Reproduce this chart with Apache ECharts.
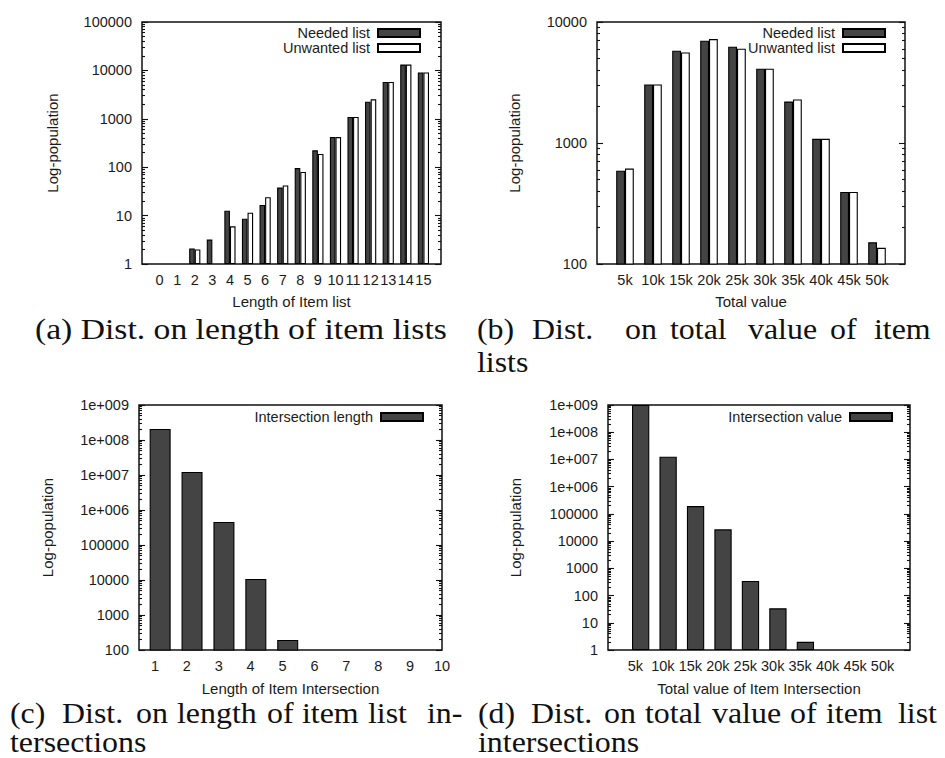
<!DOCTYPE html>
<html>
<head>
<meta charset="utf-8">
<script src="https://cdn.jsdelivr.net/npm/echarts@6/dist/echarts.min.js"></script>
<style>
  html, body { margin: 0; padding: 0; background: #fff; }
  #chart { width: 945px; height: 758px; }
</style>
</head>
<body>
<div id="chart"></div>
<script>
// (a) population by length of item lists
const lengthCats = [0, 1, 2, 3, 4, 5, 6, 7, 8, 9, 10, 11, 12, 13, 14, 15];
const lengthNeeded   = [null, null, 2.1, 3.2, 12.6, 8.6, 16.6, 38, 96, 223, 420, 1090, 2250, 5760, 13200, 9100];
const lengthUnwanted = [null, null, 2,   null, 6,   11.5, 24,  42, 80, 188, 420, 1090, 2520, 5760, 13200, 9100];

// (b) population by total value of item lists
const valueCats = ['5k', '10k', '15k', '20k', '25k', '30k', '35k', '40k', '45k', '50k'];
const valueNeeded   = [590, 3050, 5790, 7010, 6250, 4110, 2200, 1083, 394, 151];
const valueUnwanted = [615, 3050, 5610, 7230, 6020, 4110, 2290, 1083, 394, 136];

// (c) population by length of item list intersections
const interLenCats = [1, 2, 3, 4, 5, 6, 7, 8, 9, 10];
const interLen = [2.06e8, 1.22e7, 4.54e5, 10700, 193, null, null, null, null, null];

// (d) population by total value of item list intersections
const interValCats = ['5k', '10k', '15k', '20k', '25k', '30k', '35k', '40k', '45k', '50k'];
const interVal = [1e9, 1.26e7, 1.94e5, 2.7e4, 342, 34, 2, null, null, null];

// y tick labels (log scale, one per decade)
const yTicksA = [1, 10, 100, 1000, 10000, 100000];
const yTicksB = [100, 1000, 10000];
const yTicksC = [100, 1000, 10000, 100000, 1e6, 1e7, 1e8, 1e9];
const yTicksD = [1, 10, 100, 1000, 10000, 100000, 1e6, 1e7, 1e8, 1e9];

const INK = '#1b1b1b';
const DARK = '#444444';
const SANS = "'Liberation Sans', Arial, sans-serif";
const SERIF = "'Liberation Serif', 'Times New Roman', serif";

function kNum(label) { return parseFloat(label); }
function logLabel(v) {
  const e = Math.round(Math.log10(v));
  return e >= 6 ? '1e+' + String(e).padStart(3, '0') : String(Math.round(v));
}
function minorTicks(lo, hi) {
  const out = [];
  for (let d = lo; d < hi; d *= 10) for (let m = 2; m <= 9; m++) out.push(m * d);
  return out;
}

const grids = [
  { left: 142, top: 22,  width: 299, height: 242 },
  { left: 597, top: 22,  width: 308, height: 242 },
  { left: 139, top: 405, width: 303, height: 245 },
  { left: 608, top: 405, width: 302, height: 245 }
].map(g => Object.assign(g, {
  show: true, borderColor: '#111', borderWidth: 1.5,
  backgroundColor: 'transparent', containLabel: false, outerBoundsMode: 'none'
}));

const panels = [
  { xMin: -1, xMax: 16, xTicks: lengthCats, xFmt: v => String(v), xName: 'Length of Item list',
    yTicks: yTicksA, yNameGap: 82, xNameGap: 30 },
  { xMin: 0, xMax: 55, xTicks: valueCats.map(kNum), xFmt: v => v + 'k', xName: 'Total value',
    yTicks: yTicksB, yNameGap: 75, xNameGap: 30 },
  { xMin: 0.5, xMax: 10, xTicks: interLenCats, xFmt: v => String(v), xName: 'Length of Item Intersection',
    yTicks: yTicksC, yNameGap: 84, xNameGap: 31 },
  { xMin: 0, xMax: 55, xTicks: interValCats.map(kNum), xFmt: v => v + 'k', xName: 'Total value of Item Intersection',
    yTicks: yTicksD, yNameGap: 85, xNameGap: 31 }
];

const xAxis = panels.map((p, g) => ({
  type: 'value', gridIndex: g, position: 'bottom', min: p.xMin, max: p.xMax,
  axisLine: { show: false, onZero: false },
  axisTick: { show: false },
  splitLine: { show: false },
  axisLabel: { customValues: p.xTicks, formatter: p.xFmt, margin: 8, fontSize: 14.5,
               fontFamily: SANS, color: INK, hideOverlap: false },
  name: p.xName, nameLocation: 'middle', nameGap: p.xNameGap,
  nameTextStyle: { fontSize: 15, fontFamily: SANS, color: INK }
}));

const yAxis = [];
panels.forEach((p, g) => {
  const lo = p.yTicks[0], hi = p.yTicks[p.yTicks.length - 1];
  const base = {
    type: 'log', logBase: 10, gridIndex: g, min: lo, max: hi,
    axisLine: { show: false, onZero: false }, splitLine: { show: false }
  };
  const tickStyle = { color: '#111', width: 1.1 };
  // left major ticks with labels and title
  yAxis.push(Object.assign({}, base, {
    position: 'left',
    axisTick: { show: true, inside: true, length: 6, customValues: p.yTicks, lineStyle: tickStyle },
    axisLabel: { customValues: p.yTicks, formatter: logLabel, margin: 10, fontSize: 14.5,
                 fontFamily: SANS, color: INK },
    name: 'Log-population', nameLocation: 'middle', nameRotate: 90, nameGap: p.yNameGap,
    nameTextStyle: { fontSize: 15, fontFamily: SANS, color: INK }
  }));
  // left minor ticks
  yAxis.push(Object.assign({}, base, {
    position: 'left',
    axisTick: { show: true, inside: true, length: 3, customValues: minorTicks(lo, hi), lineStyle: tickStyle },
    axisLabel: { show: false }
  }));
  // mirrored right major ticks
  yAxis.push(Object.assign({}, base, {
    position: 'right',
    axisTick: { show: true, inside: true, length: 6, customValues: p.yTicks, lineStyle: tickStyle },
    axisLabel: { show: false }
  }));
  // mirrored right minor ticks
  yAxis.push(Object.assign({}, base, {
    position: 'right',
    axisTick: { show: true, inside: true, length: 3, customValues: minorTicks(lo, hi), lineStyle: tickStyle },
    axisLabel: { show: false }
  }));
});

function bar(name, g, xs, ys, width, fill) {
  return {
    type: 'bar', name: name, xAxisIndex: g, yAxisIndex: g * 4,
    data: xs.map((x, i) => [x, ys[i]]),
    barWidth: width, barGap: '0%', clip: true, silent: true,
    itemStyle: { color: fill, borderColor: '#000', borderWidth: 1.1 }
  };
}
// empty leading slot: single-series histograms sit a little right of their tick
function slot(g, xs, width) {
  return {
    type: 'bar', name: 'slot', xAxisIndex: g, yAxisIndex: g * 4,
    data: xs.map(x => [x, null]), barWidth: width, barGap: '0%', silent: true
  };
}

const valueX = valueCats.map(kNum);
const interValX = interValCats.map(kNum);

const series = [
  bar('Needed list',   0, lengthCats, lengthNeeded,   5.6, DARK),
  bar('Unwanted list', 0, lengthCats, lengthUnwanted, 5.6, '#fff'),
  bar('Needed list',   1, valueX, valueNeeded,   8.8, DARK),
  bar('Unwanted list', 1, valueX, valueUnwanted, 8.8, '#fff'),
  slot(2, interLenCats, 10.4),
  bar('Intersection length', 2, interLenCats, interLen, 21, DARK),
  slot(3, interValX, 10.4),
  bar('Intersection value', 3, interValX, interVal, 17.3, DARK)
];

function legend(names, right, top) {
  return {
    data: names, orient: 'vertical', right: right, top: top, align: 'right',
    icon: 'rect', itemWidth: 42, itemHeight: 8, itemGap: 0, padding: 0,
    selectedMode: false,
    textStyle: { fontSize: 14.5, lineHeight: 15, fontFamily: SANS, color: INK, padding: [0, 3, 0, 0] }
  };
}

// sub-figure captions; justified lines are set word by word
const captionWords = [
  { y: 329, s: 1.16, words: [['(a) Dist. on length of item lists', 35]] },
  { y: 329, s: 1.1, words: [['(b)', 477], ['Dist.', 532], ['on', 625], ['total', 670], ['value', 748], ['of', 830], ['item', 874]] },
  { y: 362, s: 1.1, words: [['lists', 477]] },
  { y: 713, s: 1.1, words: [['(c)', 10], ['Dist.', 62], ['on', 136], ['length', 177], ['of', 267], ['item', 302], ['list', 368], ['in-', 427]] },
  { y: 742, s: 1.1, words: [['tersections', 10]] },
  { y: 713, s: 1.1, words: [['(d)', 478], ['Dist.', 531], ['on', 604], ['total', 645], ['value', 712], ['of', 790], ['item', 826], ['list', 898]] },
  { y: 742, s: 1.1, words: [['intersections', 478]] }
];
const graphicEls = [];
captionWords.forEach(line => line.words.forEach(([w, x]) => {
  graphicEls.push({
    type: 'text', x: x, y: line.y, scaleX: line.s, silent: true,
    style: { text: w, font: '29px ' + SERIF, fill: '#111', verticalAlign: 'middle', align: 'left' }
  });
}));

const chart = echarts.init(document.getElementById('chart'), null, { renderer: 'svg' });
chart.setOption({
  animation: false,
  backgroundColor: '#fff',
  grid: grids,
  xAxis: xAxis,
  yAxis: yAxis,
  legend: [
    legend(['Needed list', 'Unwanted list'], 524, 25.5),
    legend(['Needed list', 'Unwanted list'], 59, 25.5),
    legend(['Intersection length'], 521, 409.5),
    legend(['Intersection value'], 52, 409.5)
  ],
  series: series,
  graphic: { elements: graphicEls }
});
</script>
</body>
</html>
